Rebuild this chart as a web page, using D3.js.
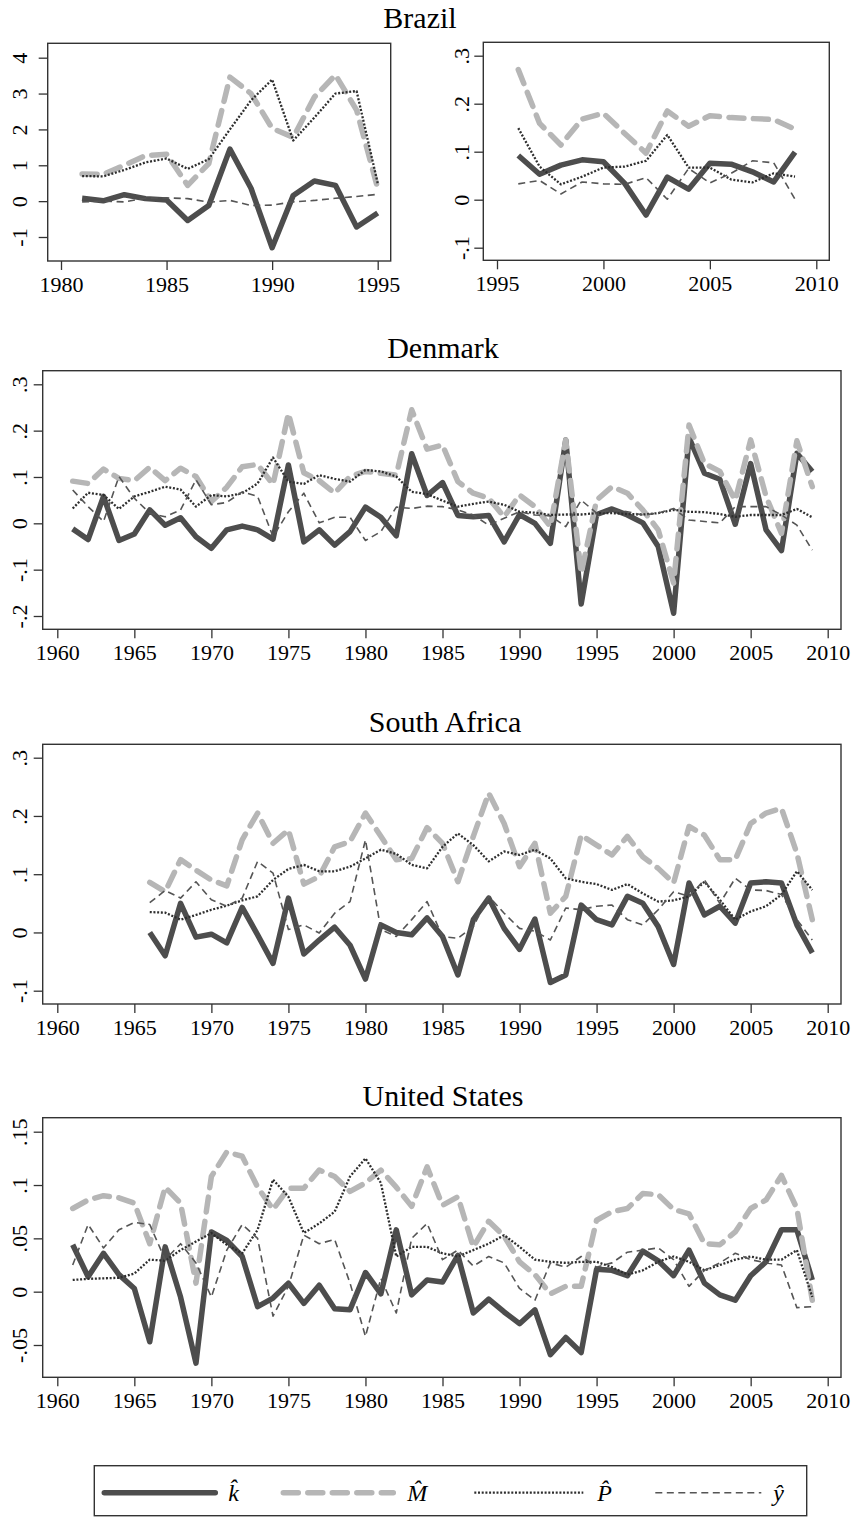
<!DOCTYPE html>
<html>
<head>
<meta charset="utf-8">
<script src="https://cdn.jsdelivr.net/npm/d3@7"></script>
<style>
  body { margin: 0; background: #fff; }
  svg { display: block; }
</style>
</head>
<body>
<div id="chart"></div>
<script>
// ---- data ----
const brazilEarlyYears = [1981,1982,1983,1984,1985,1986,1987,1988,1989,1990,1991,1992,1993,1994,1995];
const brazilEarlyK = [0.08,0.01,0.18,0.07,0.03,-0.54,-0.12,1.45,0.36,-1.3,0.16,0.56,0.44,-0.72,-0.33];
const brazilEarlyM = [0.76,0.75,1.0,1.27,1.31,0.44,1.05,3.46,3.0,2.03,1.78,2.9,3.52,2.54,0.36];
const brazilEarlyP = [0.70,0.69,0.87,1.08,1.19,0.9,1.17,2.0,2.81,3.39,1.69,2.33,3.0,3.07,0.5];
const brazilEarlyY = [-0.02,0.0,-0.02,0.08,0.09,0.07,-0.03,0.02,-0.12,-0.11,-0.02,0.02,0.08,0.13,0.19];

const brazilLateYears = [1996,1997,1998,1999,2000,2001,2002,2003,2004,2005,2006,2007,2008,2009];
const brazilLateK = [0.092,0.053,0.072,0.083,0.079,0.034,-0.032,0.047,0.022,0.076,0.074,0.058,0.037,0.099];
const brazilLateM = [0.271,0.159,0.114,0.168,0.18,0.138,0.097,0.185,0.153,0.175,0.171,0.169,0.167,0.147];
const brazilLateP = [0.149,0.069,0.032,0.048,0.067,0.069,0.081,0.135,0.067,0.067,0.042,0.036,0.055,0.048];
const brazilLateY = [0.033,0.040,0.012,0.037,0.033,0.032,0.046,0.001,0.065,0.035,0.055,0.081,0.077,0.001];

const denmarkYears = [1961,1962,1963,1964,1965,1966,1967,1968,1969,1970,1971,1972,1973,1974,1975,1976,1977,1978,1979,1980,
  1981,1982,1983,1984,1985,1986,1987,1988,1989,1990,1991,1992,1993,1994,1995,1996,1997,1998,1999,2000,
  2001,2002,2003,2004,2005,2006,2007,2008,2009];
const denmarkK = [-0.012,-0.035,0.058,-0.037,-0.023,0.029,-0.004,0.012,-0.029,-0.054,-0.014,-0.006,-0.014,-0.034,0.126,-0.04,-0.014,-0.047,-0.018,0.035,
  0.013,-0.027,0.15,0.06,0.088,0.017,0.014,0.017,-0.04,0.019,0.0,-0.043,0.18,-0.174,0.019,0.031,0.018,0.001,-0.05,-0.194,
  0.185,0.108,0.095,-0.002,0.129,-0.014,-0.059,0.151,0.112];
const denmarkM = [0.091,0.086,0.117,0.097,0.092,0.121,0.092,0.119,0.101,0.047,0.078,0.122,0.127,0.084,0.237,0.109,0.092,0.065,0.101,0.112,
  0.108,0.104,0.245,0.16,0.169,0.09,0.065,0.054,0.014,0.061,0.036,-0.007,0.18,-0.108,0.05,0.079,0.065,0.029,-0.014,-0.129,
  0.212,0.129,0.112,0.05,0.18,0.058,-0.022,0.178,0.079];
const denmarkP = [0.032,0.066,0.061,0.031,0.058,0.068,0.079,0.073,0.036,0.061,0.058,0.065,0.086,0.142,0.09,0.085,0.104,0.096,0.09,0.115,
  0.112,0.101,0.068,0.063,0.049,0.036,0.042,0.047,0.04,0.025,0.023,0.018,0.019,0.019,0.022,0.022,0.02,0.019,0.022,0.029,
  0.025,0.024,0.02,0.014,0.018,0.018,0.018,0.031,0.013];
const denmarkY = [0.072,0.036,0.004,0.101,0.054,0.022,0.014,0.029,0.094,0.04,0.045,0.068,0.058,-0.029,0.025,0.065,0.001,0.013,0.013,-0.037,
  -0.018,0.035,0.032,0.037,0.036,0.029,0.018,-0.004,0.011,0.025,0.018,0.016,-0.007,0.05,0.022,0.029,0.025,0.018,0.022,0.032,
  0.007,0.004,0.001,0.036,0.036,0.036,0.018,-0.004,-0.058];

const southAfricaYears = [1966,1967,1968,1969,1970,1971,1972,1973,1974,1975,1976,1977,1978,1979,1980,
  1981,1982,1983,1984,1985,1986,1987,1988,1989,1990,1991,1992,1993,1994,1995,1996,1997,1998,1999,2000,
  2001,2002,2003,2004,2005,2006,2007,2008,2009];
const southAfricaK = [0.0,-0.04,0.05,-0.008,-0.003,-0.018,0.043,-0.004,-0.053,0.059,-0.037,-0.013,0.009,-0.022,-0.08,
  0.013,0.0,-0.004,0.025,-0.007,-0.073,0.022,0.059,0.007,-0.029,0.023,-0.086,-0.073,0.047,0.022,0.013,0.062,0.05,0.01,-0.055,
  0.085,0.03,0.045,0.016,0.085,0.087,0.085,0.013,-0.035];
const southAfricaM = [0.086,0.07,0.125,0.107,0.09,0.08,0.159,0.205,0.153,0.176,0.083,0.096,0.147,0.156,0.205,
  0.165,0.125,0.127,0.18,0.153,0.087,0.165,0.239,0.187,0.113,0.153,0.033,0.062,0.167,0.15,0.133,0.165,0.13,0.11,0.085,
  0.182,0.167,0.125,0.125,0.187,0.205,0.213,0.136,0.022];
const southAfricaP = [0.035,0.034,0.022,0.03,0.039,0.046,0.055,0.062,0.09,0.109,0.116,0.105,0.105,0.113,0.127,
  0.142,0.135,0.116,0.11,0.147,0.17,0.15,0.122,0.139,0.133,0.142,0.127,0.093,0.087,0.083,0.073,0.083,0.067,0.053,0.055,
  0.062,0.087,0.056,0.022,0.036,0.045,0.065,0.105,0.073];
const southAfricaY = [0.051,0.072,0.059,0.087,0.056,0.045,0.059,0.122,0.102,0.005,0.013,-0.001,0.033,0.053,0.159,
  0.005,-0.007,0.022,0.053,-0.007,-0.01,0.01,0.062,0.033,0.007,0.002,-0.013,0.042,0.039,0.045,0.047,0.022,0.013,0.039,0.07,
  0.062,0.09,0.05,0.093,0.073,0.072,0.065,0.022,-0.013];

const usYears = denmarkYears;
const usK = [0.044,0.014,0.036,0.016,0.003,-0.047,0.042,-0.005,-0.067,0.056,0.048,0.033,-0.014,-0.006,0.008,-0.011,0.006,-0.016,-0.017,0.018,
  -0.002,0.058,-0.003,0.011,0.009,0.034,-0.02,-0.007,-0.019,-0.03,-0.017,-0.059,-0.043,-0.057,0.021,0.02,0.015,0.038,0.029,0.015,
  0.039,0.008,-0.003,-0.008,0.015,0.028,0.058,0.058,0.011];
const usM = [0.078,0.086,0.09,0.088,0.083,0.045,0.098,0.083,0.008,0.108,0.131,0.127,0.098,0.077,0.097,0.097,0.114,0.108,0.094,0.102,
  0.114,0.098,0.08,0.117,0.081,0.089,0.042,0.066,0.052,0.028,0.016,-0.002,0.005,0.005,0.067,0.075,0.078,0.092,0.091,0.077,
  0.073,0.045,0.044,0.056,0.078,0.086,0.109,0.078,-0.008];
const usP = [0.011,0.012,0.0125,0.013,0.017,0.03,0.029,0.039,0.047,0.055,0.044,0.036,0.058,0.105,0.089,0.055,0.064,0.075,0.108,0.125,
  0.102,0.033,0.042,0.042,0.036,0.033,0.039,0.045,0.053,0.042,0.03,0.028,0.027,0.028,0.028,0.023,0.016,0.02,0.028,0.033,
  0.028,0.02,0.025,0.03,0.033,0.03,0.03,0.039,-0.005];
const usY = [0.025,0.063,0.041,0.058,0.065,0.063,0.03,0.045,0.027,-0.005,0.039,0.063,0.05,-0.023,0.005,0.053,0.045,0.049,0.008,-0.042,
  0.0125,-0.02,0.05,0.064,0.03,0.039,0.024,0.033,0.027,0.003,-0.008,0.027,0.023,0.033,0.023,0.027,0.037,0.039,0.041,0.03,
  0.005,0.02,0.027,0.036,0.03,0.027,0.025,-0.015,-0.014];

const seriesNames = ["k", "M", "P", "y"];
const seriesLabels = ["k\u0302", "M\u0302", "P\u0302", "y\u0302"];

// ---- styles ----
const styles = {
  k: { stroke: "#4d4d4d", width: 5.5, dash: null },
  M: { stroke: "#b6b6b6", width: 5.5, dash: "15 9.5" },
  P: { stroke: "#2e2e2e", width: 2.3, dash: "2 1.7" },
  y: { stroke: "#555555", width: 1.6, dash: "7 4.5" }
};
const font = "'Liberation Serif', 'Times New Roman', serif";

const width = 856, height = 1517;
const svg = d3.select("#chart").append("svg")
  .attr("width", width)
  .attr("height", height);

function fmtTick(d) {
  if (d === 0) return "0";
  return String(+d.toFixed(3)).replace("0.", ".");
}

function drawPanel(p) {
  const x = d3.scaleLinear().domain(p.xDomain).range(p.xRange);
  const y = d3.scaleLinear().domain(p.yDomain).range(p.yRange);
  const g = svg.append("g");

  // series
  const line = d3.line().x(d => x(d[0])).y(d => y(d[1]));
  seriesNames.forEach((name, i) => {
    const s = styles[name];
    const pts = p.years.map((yr, j) => [yr, p.series[i][j]]);
    g.append("path")
      .attr("d", line(pts))
      .attr("fill", "none")
      .attr("stroke", s.stroke)
      .attr("stroke-width", s.width)
      .attr("stroke-dasharray", s.dash)
      .attr("stroke-linejoin", "round")
      .attr("stroke-linecap", name === "M" ? "round" : "butt");
  });

  // frame
  g.append("rect")
    .attr("x", p.frame[0]).attr("y", p.frame[1])
    .attr("width", p.frame[2] - p.frame[0])
    .attr("height", p.frame[3] - p.frame[1])
    .attr("fill", "none")
    .attr("stroke", "#333")
    .attr("stroke-width", 1.4);

  // x axis
  const xAxis = g.append("g")
    .attr("transform", `translate(0,${p.frame[3]})`)
    .call(d3.axisBottom(x).tickValues(p.xTicks).tickSize(9).tickPadding(6).tickFormat(d3.format("d")));
  xAxis.select(".domain").remove();
  xAxis.selectAll("line").attr("stroke", "#333").attr("stroke-width", 1.3);
  xAxis.selectAll("text")
    .attr("fill", "#000")
    .style("font-family", font)
    .style("font-size", "22px");

  // y axis
  const yAxis = g.append("g")
    .attr("transform", `translate(${p.frame[0]},0)`)
    .call(d3.axisLeft(y).tickValues(p.yTicks).tickSize(9).tickFormat(fmtTick));
  yAxis.select(".domain").remove();
  yAxis.selectAll("line").attr("stroke", "#333").attr("stroke-width", 1.3);
  yAxis.selectAll("text")
    .attr("x", null).attr("dy", null)
    .attr("fill", "#000")
    .attr("text-anchor", "middle")
    .attr("transform", `translate(${-p.labelOffset},0) rotate(-90)`)
    .style("font-family", font)
    .style("font-size", "22px");
}

function drawTitle(text, cx, baseline) {
  svg.append("text")
    .attr("x", cx).attr("y", baseline)
    .attr("text-anchor", "middle")
    .style("font-family", font)
    .style("font-size", "30px")
    .text(text);
}

// ---- Brazil ----
drawTitle("Brazil", 420, 28);
drawPanel({
  years: brazilEarlyYears,
  series: [brazilEarlyK, brazilEarlyM, brazilEarlyP, brazilEarlyY],
  frame: [47.7, 43.3, 390.7, 261],
  xDomain: [1980, 1995], xRange: [61, 377.7],
  yDomain: [-1, 4], yRange: [237, 57.7],
  xTicks: [1980, 1985, 1990, 1995],
  yTicks: [-1, 0, 1, 2, 3, 4],
  labelOffset: 21
});
drawPanel({
  years: brazilLateYears,
  series: [brazilLateK, brazilLateM, brazilLateP, brazilLateY],
  frame: [483.3, 42.3, 829.3, 260.3],
  xDomain: [1995, 2010], xRange: [497, 816.3],
  yDomain: [-0.1, 0.3], yRange: [247.7, 55.7],
  xTicks: [1995, 2000, 2005, 2010],
  yTicks: [-0.1, 0, 0.1, 0.2, 0.3],
  labelOffset: 14
});

// ---- Denmark ----
drawTitle("Denmark", 443, 358);
drawPanel({
  years: denmarkYears,
  series: [denmarkK, denmarkM, denmarkP, denmarkY],
  frame: [42.7, 370.7, 841, 629.3],
  xDomain: [1960, 2010], xRange: [57.3, 827.7],
  yDomain: [-0.2, 0.3], yRange: [616, 384.3],
  xTicks: [1960, 1965, 1970, 1975, 1980, 1985, 1990, 1995, 2000, 2005, 2010],
  yTicks: [-0.2, -0.1, 0, 0.1, 0.2, 0.3],
  labelOffset: 16
});

// ---- South Africa ----
drawTitle("South Africa", 445, 732);
drawPanel({
  years: southAfricaYears,
  series: [southAfricaK, southAfricaM, southAfricaP, southAfricaY],
  frame: [42.7, 744.3, 841, 1004],
  xDomain: [1960, 2010], xRange: [57.3, 827.7],
  yDomain: [-0.1, 0.3], yRange: [990.7, 757.7],
  xTicks: [1960, 1965, 1970, 1975, 1980, 1985, 1990, 1995, 2000, 2005, 2010],
  yTicks: [-0.1, 0, 0.1, 0.2, 0.3],
  labelOffset: 16
});

// ---- United States ----
drawTitle("United States", 443, 1106);
drawPanel({
  years: usYears,
  series: [usK, usM, usP, usY],
  frame: [42.7, 1117.7, 841, 1377.3],
  xDomain: [1960, 2010], xRange: [57.3, 827.7],
  yDomain: [-0.05, 0.15], yRange: [1345, 1131.7],
  xTicks: [1960, 1965, 1970, 1975, 1980, 1985, 1990, 1995, 2000, 2005, 2010],
  yTicks: [-0.05, 0, 0.05, 0.1, 0.15],
  labelOffset: 16
});

// ---- legend ----
const legend = svg.append("g").attr("transform", "translate(94.3,1465.7)");
legend.append("rect")
  .attr("width", 712.4).attr("height", 50)
  .attr("fill", "#fff")
  .attr("stroke", "#333")
  .attr("stroke-width", 1.4);

const legendItems = legend.selectAll(".legend-item")
  .data(seriesNames)
  .enter()
  .append("g")
  .attr("class", "legend-item")
  .attr("transform", (d, i) => `translate(${[10, 189, 380, 561][i]},27)`);

legendItems.append("line")
  .attr("x1", 0)
  .attr("x2", (d, i) => [111, 110, 109, 106][i])
  .attr("stroke", d => styles[d].stroke)
  .attr("stroke-width", d => styles[d].width)
  .attr("stroke-dasharray", d => styles[d].dash)
  .attr("stroke-linecap", d => (d === "k" || d === "M") ? "round" : "butt");

legendItems.append("text")
  .attr("x", (d, i) => [124, 124, 123, 118][i])
  .attr("y", 8)
  .style("font-family", font)
  .style("font-size", "24px")
  .style("font-style", "italic")
  .text((d, i) => seriesLabels[i]);
</script>
</body>
</html>
